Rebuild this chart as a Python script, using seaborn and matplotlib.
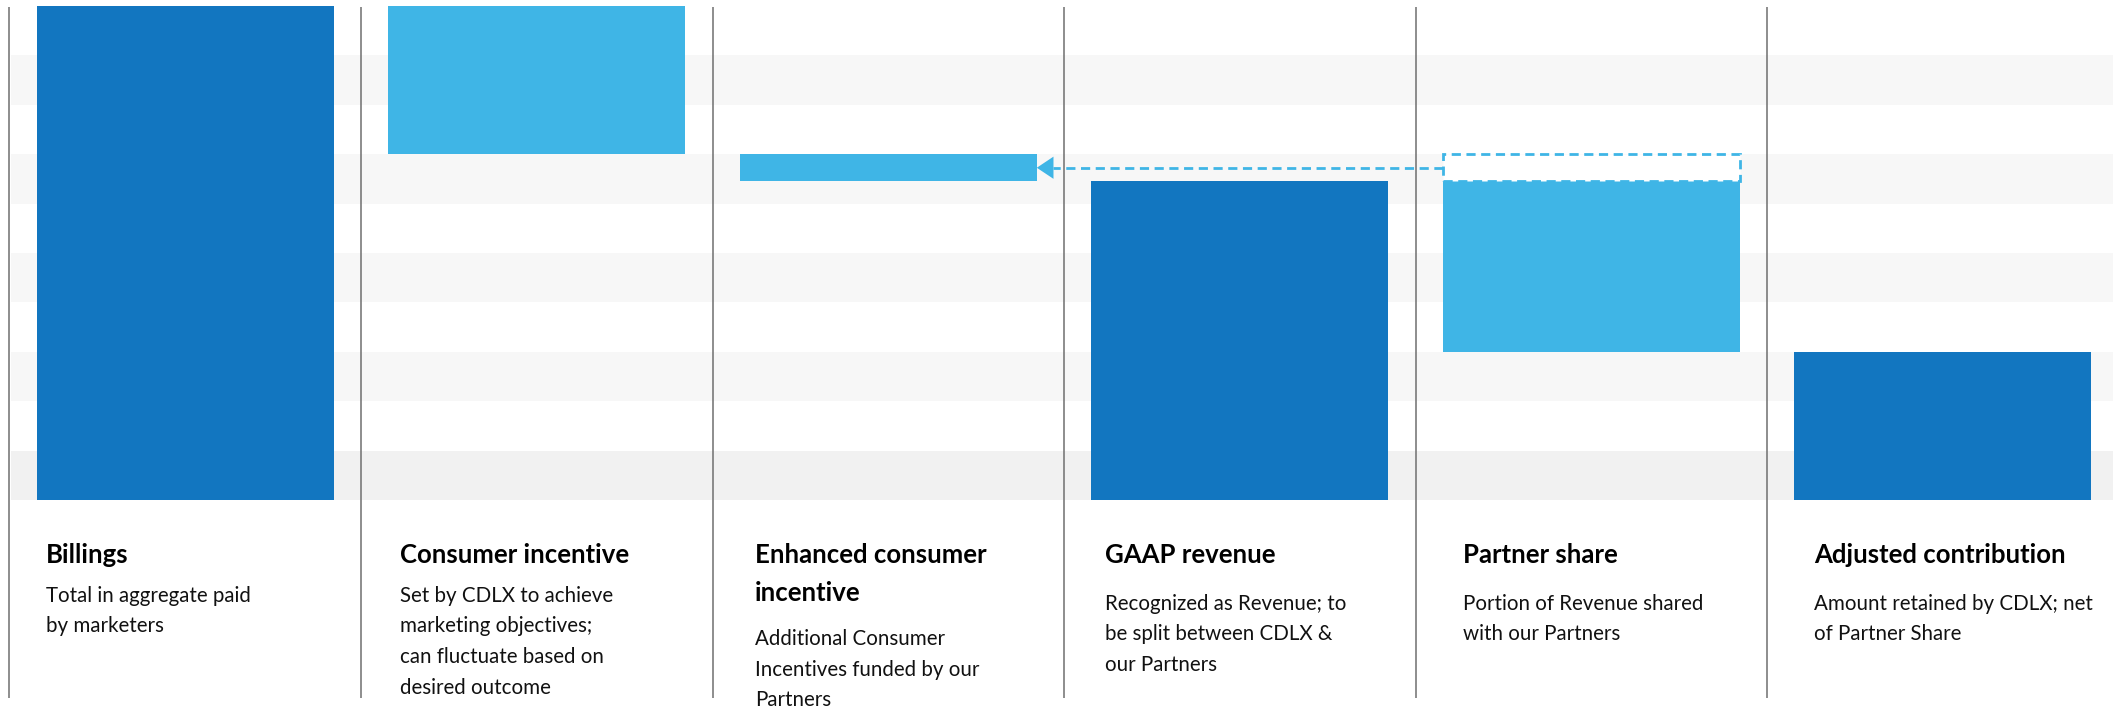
import matplotlib
matplotlib.use("Agg")
import matplotlib.pyplot as plt
from matplotlib.patches import Rectangle
import pandas as pd
import seaborn as sns

# values (arbitrary units, 0 = baseline, 10 = billings)
categories = ["Billings", "Consumer incentive", "Enhanced consumer incentive",
              "GAAP revenue", "Partner share", "Adjusted contribution"]
bar_bottom = [0.0, 7.0, 6.45, 0.0, 3.0, 0.0]
bar_top = [10.0, 10.0, 7.0, 6.45, 6.45, 3.0]
bar_kind = ["total", "step", "step", "total", "step", "total"]

titles = ["Billings", "Consumer incentive", "Enhanced consumer\nincentive",
          "GAAP revenue", "Partner share", "Adjusted contribution"]
descriptions = [
    ["Total in aggregate paid", "by marketers"],
    ["Set by CDLX to achieve", "marketing objectives;", "can fluctuate based on", "desired outcome"],
    ["Additional Consumer", "Incentives funded by our", "Partners"],
    ["Recognized as Revenue; to", "be split between CDLX &", "our Partners"],
    ["Portion of Revenue shared", "with our Partners"],
    ["Amount retained by CDLX; net", "of Partner Share"],
]

DARK = "#1276c0"
LIGHT = "#3fb5e6"
palette = {"total": DARK, "step": LIGHT}

sns.set_theme(style="white")
plt.rcParams["font.family"] = ["Lato", "DejaVu Sans"]

df = pd.DataFrame({"cat": categories, "height": [t - b for t, b in zip(bar_top, bar_bottom)],
                   "bottom": bar_bottom, "kind": bar_kind})
df["color"] = df["kind"].map(palette)

fig = plt.figure(figsize=(21.13, 7.11), dpi=100)
ax = fig.add_axes([0, 0, 1, 1])

sns.barplot(data=df, x="cat", y="height", hue="cat", palette=list(df["color"]),
            order=categories, hue_order=categories, dodge=False, legend=False,
            width=0.845, saturation=1, linewidth=0, ax=ax, zorder=3)

# move each bar to its floating start
for p in ax.patches:
    i = int(round(p.get_x() + p.get_width() / 2))
    p.set_y(bar_bottom[i])

ax.set_xlim(-0.527, 5.484)
ax.set_ylim(-4.27, 10.12)
ax.axis("off")

# striped background
for k in range(0, 10, 2):
    shade = "#f1f1f1" if k == 0 else "#f7f7f7"
    ax.axhspan(k, k + 1, xmin=0.005, xmax=1, color=shade, lw=0, zorder=0)

# column separators
ax.vlines([i - 0.5 for i in range(len(categories))], -4.0, 9.98,
          color="#6f6f6f", lw=1.1, zorder=1)

# partner-funded part: dashed box on the partner column and arrow to the enhanced bar
half = 0.845 / 2
enh = categories.index("Enhanced consumer incentive")
part = categories.index("Partner share")
dash = (0, (3.3, 2.0))
box = Rectangle((part - half, bar_bottom[enh]), 2 * half, bar_top[enh] - bar_bottom[enh],
                facecolor="white", edgecolor=LIGHT, lw=2.0, linestyle=dash, zorder=4)
ax.add_patch(box)
y_mid = (bar_top[enh] + bar_bottom[enh]) / 2
ax.plot([part - half, enh + half + 0.045], [y_mid, y_mid], color=LIGHT, lw=2.0,
        linestyle=dash, zorder=4)
ax.annotate("", xy=(enh + half, y_mid), xytext=(enh + half + 0.05, y_mid),
            arrowprops=dict(arrowstyle="-|>,head_length=0.6,head_width=0.4",
                            color=LIGHT, lw=0, mutation_scale=20,
                            shrinkA=0, shrinkB=0), zorder=5)


def px_to_y(py):
    # pixel row (from top) of the 711 px image -> data value
    return 10.12 - py / 711 * (10.12 + 4.27)


col_w = 351.5  # pixels per column
text_pad = [9, 12, 15, 14, 20, 20]
text_x = [i - half + text_pad[i] / col_w for i in range(len(categories))]
for i, (t, d) in enumerate(zip(titles, descriptions)):
    lines = t.split("\n")
    for j, ln in enumerate(lines):
        ax.text(text_x[i], px_to_y(555 + j * 38), ln, fontsize=18.5, fontweight="bold",
                color="#000000", va="center", ha="left")
    start = 596 if len(lines) == 1 and i < 3 else (639 if len(lines) > 1 else 604)
    for j, ln in enumerate(d):
        ax.text(text_x[i], px_to_y(start + j * 30.5), ln, fontsize=14.8,
                color="#111111", va="center", ha="left")

fig.savefig("out.png", dpi=100, facecolor="white")
